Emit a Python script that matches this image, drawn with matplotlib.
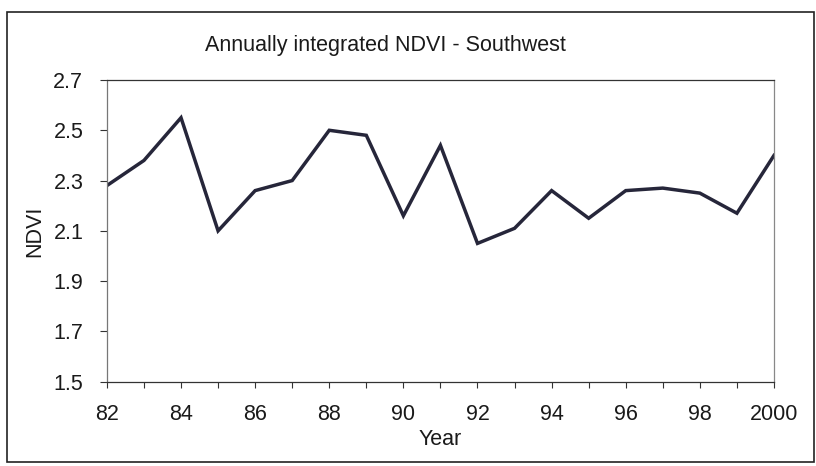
import matplotlib.pyplot as plt
from matplotlib.patches import Rectangle
from matplotlib.ticker import MultipleLocator, FixedLocator

# Annually integrated NDVI, Southwest region
years = list(range(1982, 2001))
ndvi = [2.28, 2.38, 2.55, 2.10, 2.26, 2.30, 2.50, 2.48, 2.16, 2.44,
        2.05, 2.11, 2.26, 2.15, 2.26, 2.27, 2.25, 2.17, 2.40]
label_years = [1982, 1984, 1986, 1988, 1990, 1992, 1994, 1996, 1998, 2000]
label_text = ['82', '84', '86', '88', '90', '92', '94', '96', '98', '2000']
y_ticks = [1.5, 1.7, 1.9, 2.1, 2.3, 2.5, 2.7]

plt.rcParams['font.family'] = ['Liberation Sans', 'DejaVu Sans']

fig = plt.figure(figsize=(8.16, 4.66), dpi=100)
ax = fig.add_axes([0.131, 0.181, 0.8175, 0.6473])

ax.plot(years, ndvi, color='#26263a', linewidth=2.5, solid_joinstyle='miter')

ax.set_xlim(1982, 2000)
ax.set_ylim(1.5, 2.7)
ax.yaxis.set_major_locator(FixedLocator(y_ticks))
ax.set_yticklabels([f'{v:.1f}' for v in y_ticks])
ax.xaxis.set_major_locator(FixedLocator(label_years))
ax.set_xticklabels(label_text)
ax.xaxis.set_minor_locator(MultipleLocator(1))

ax.tick_params(axis='both', which='both', direction='out', color='#333333',
               labelsize=15.5, width=0.8, labelcolor='#1a1a1a')
ax.tick_params(axis='x', which='both', length=4, pad=12)
ax.tick_params(axis='y', length=5, pad=12)

for side in ['left', 'right', 'top', 'bottom']:
    ax.spines[side].set_color('#333333')
    ax.spines[side].set_linewidth(0.9)
ax.spines['left'].set_color('#777777')
ax.spines['right'].set_color('#888888')

ax.set_xlabel('Year', fontsize=15.5, labelpad=3, color='#1a1a1a')
ax.set_ylabel('NDVI', fontsize=15.5, labelpad=6, color='#1a1a1a')
fig.text(0.472, 0.903, 'Annually integrated NDVI - Southwest', ha='center',
         va='center', fontsize=15.5, color='#1a1a1a')

# outer chart border
fig.patches.append(Rectangle((0.009, 0.008), 0.988, 0.966, transform=fig.transFigure,
                             fill=False, edgecolor='#222222', linewidth=1.2))

fig.savefig('out.png', dpi=100)
